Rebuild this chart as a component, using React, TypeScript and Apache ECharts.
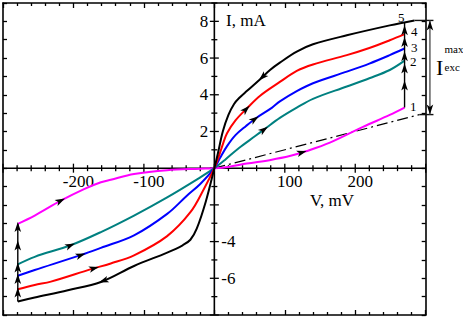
import React, { useEffect, useRef } from "react";
import * as echarts from "echarts";

// ---------- data (V in mV, I in mA) ----------
const curve1V = [-279, -255, -218, -185, -161, -147, -114, -67, -20, 0, 20, 46, 80, 107, 130, 164, 211, 249, 270];
const curve1I = [-3.03, -2.58, -1.77, -1.14, -0.77, -0.63, -0.32, -0.11, -0.03, 0, 0.07, 0.25, 0.45, 0.66, 0.92, 1.39, 2.25, 2.9, 3.3];

const curve2V = [-279, -255, -204, -161, -114, -67, -20, 0, 15, 35, 58, 72, 93, 117, 140, 188, 220, 249, 270];
const curve2I = [-5.24, -4.83, -4.2, -3.48, -2.58, -1.59, -0.5, 0, 0.45, 1.1, 1.75, 2.15, 2.74, 3.3, 3.78, 4.45, 4.9, 5.35, 5.86];

const curve3V = [-279, -255, -190, -161, -114, -67, -39, -20, 0, 8, 18, 30, 45, 60, 82, 93, 117, 140, 188, 220, 249, 270];
const curve3I = [-5.86, -5.55, -4.74, -4.34, -3.66, -2.49, -1.5, -0.86, 0, 0.55, 1.2, 1.8, 2.3, 2.75, 3.3, 3.64, 4.2, 4.63, 5.26, 5.7, 6.16, 6.52];

const curve4V = [-279, -255, -232, -175, -147, -114, -67, -34, -15, 0, 6, 12, 18, 30, 46, 65, 93, 117, 140, 188, 220, 249, 270];
const curve4I = [-6.6, -6.36, -6.18, -5.5, -5.19, -4.75, -3.7, -2.4, -1.15, 0, 0.6, 1.3, 1.9, 2.6, 3.25, 3.95, 4.7, 5.3, 5.65, 6.16, 6.55, 6.97, 7.3];

// curve 5 is the return sweep, from +V to -V
const curve5V = [284, 249, 188, 140, 117, 93, 79, 65, 46, 36, 28, 20, 12, 5, 0, -12, -25, -34, -45, -67, -114, -161, -208, -255, -279];
const curve5I = [8.05, 7.78, 7.24, 6.75, 6.35, 5.75, 5.35, 4.85, 4.2, 3.85, 3.5, 2.9, 2.0, 0.8, 0, -1.8, -3.3, -3.9, -4.2, -4.6, -5.33, -6.2, -6.65, -7.05, -7.26];

const dashV = [0, 291];
const dashI = [0, 2.92];

const vMaxSweep = 270;
const vMinSweep = -279;
const excV = 306;
const excLineEndV = 311;

const curveColors = ["#ff00ff", "#008080", "#0000ff", "#ff0000", "#000000"];
const curveNames = ["1", "2", "3", "4", "5"];

// arrowheads on curves: curve number, V of tip, sweep direction
const arrowCurve = [4, 3, 2, 1, 5, 1, 2, 3, 4, 5];
const arrowV = [50, 63, 76, 131, 63, -212, -198, -183, -164, -164];
const arrowDir = [1, 1, 1, 1, -1, 1, 1, 1, 1, -1];

// axes
const xMin = -300, xMax = 300, xMajor = 100, xMinor = 20;
const yMin = -8, yMax = 9, yMajor = 2, yMinor = 1;
const xTickLabels = [-200, -100, 100, 200];
const yTickLabelsLeft = [2, 4, 6, 8];
const yTickLabelsRight = [-4, -6];

// ---------- helpers ----------
const curvesV = [curve1V, curve2V, curve3V, curve4V, curve5V];
const curvesI = [curve1I, curve2I, curve3I, curve4I, curve5I];

function interp(vs: number[], is: number[], v: number): number {
  for (let k = 0; k < vs.length - 1; k++) {
    const a = vs[k], b = vs[k + 1];
    if ((v >= a && v <= b) || (v <= a && v >= b)) {
      const t = b === a ? 0 : (v - a) / (b - a);
      return is[k] + t * (is[k + 1] - is[k]);
    }
  }
  return is[is.length - 1];
}

const FONT = '"Liberation Serif", "Times New Roman", serif';

export default function App() {
  const ref = useRef<HTMLDivElement>(null);
  useEffect(() => {
    if (!ref.current) return;
    const chart = echarts.init(ref.current, undefined, { renderer: "svg" });

    const curveSeries = curvesV.map((vs, k) => ({
      type: "line",
      name: curveNames[k],
      data: vs.map((v, j) => [v, curvesI[k][j]]),
      showSymbol: false,
      smooth: 0.35,
      lineStyle: { color: curveColors[k], width: 2 },
      z: 3,
    }));

    // vertical jumps at the sweep ends (interpolated on each curve)
    const rightEnds = [0, 1, 2, 3, 4].map((k) => interp(curvesV[k], curvesI[k], vMaxSweep));
    const leftEnds = [4, 3, 2, 1, 0].map((k) => interp(curvesV[k], curvesI[k], vMinSweep));

    const arrows: number[][] = [];
    arrowCurve.forEach((c, n) => {
      const vs = curvesV[c - 1], is = curvesI[c - 1];
      const v = arrowV[n];
      const vb = v - arrowDir[n] * 6;
      arrows.push([v, interp(vs, is, v), vb, interp(vs, is, vb)]);
    });
    for (let k = 0; k < rightEnds.length - 1; k++) {
      arrows.push([vMaxSweep, rightEnds[k + 1] - 0.15, vMaxSweep, rightEnds[k]]);
    }
    arrows.push([vMaxSweep, (rightEnds[0] + rightEnds[1]) / 2 + 0.2, vMaxSweep, rightEnds[0]]);
    for (let k = 0; k < leftEnds.length - 1; k++) {
      arrows.push([vMinSweep, leftEnds[k + 1] + 0.1, vMinSweep, leftEnds[k]]);
    }
    arrows.push([vMinSweep, (leftEnds[3] + leftEnds[4]) / 2 + 0.2, vMinSweep, leftEnds[3]]);
    const excTop = curve5I[0];
    const excBot = dashI[1];
    arrows.push([excV, excTop, excV, excBot]);
    arrows.push([excV, excBot, excV, excTop]);

    // annotation segments: [v1, i1, v2, i2, colourIndex]
    const segColors = ["#111", "#555"];
    const segments = [
      [curve5V[0], excTop, excLineEndV, excTop, 0],
      [dashV[1], excBot, excLineEndV, excBot, 0],
      [excV, excTop, excV, excBot, 1],
    ];

    // central axes ticks
    const xTicks: number[][] = [];
    for (let v = xMin; v <= xMax + 1e-9; v += xMinor) xTicks.push([v, 0]);
    const yTicks: number[][] = [];
    for (let i = yMin; i <= yMax + 1e-9; i += yMinor) yTicks.push([0, i]);

    const tickLine = { color: "#000", width: 1.3 };
    const frameX = (position: string) => ({
      type: "value",
      min: xMin,
      max: xMax,
      interval: xMajor,
      position,
      splitLine: { show: false },
      axisLine: { show: true, onZero: false, lineStyle: { color: "#000", width: 1.6 } },
      axisTick: { show: true, inside: true, length: 5, lineStyle: tickLine },
      minorTick: { show: true, splitNumber: xMajor / xMinor, length: 3, lineStyle: tickLine },
      axisLabel: { show: false },
    });
    const frameY = (position: string) => ({
      type: "value",
      min: yMin,
      max: yMax,
      interval: yMinor,
      position,
      splitLine: { show: false },
      axisLine: { show: true, onZero: false, lineStyle: { color: "#000", width: 1.6 } },
      axisTick: { show: true, inside: true, length: 4, lineStyle: tickLine },
      axisLabel: { show: false },
    });
    const labelFont = `17px ${FONT}`;

    const option: any = {
      animation: false,
      textStyle: { fontFamily: FONT },
      grid: { left: 3, top: 3, width: 422.7, height: 312, containLabel: false, outerBoundsMode: "none" },
      xAxis: [frameX("bottom"), frameX("top")],
      yAxis: [frameY("left"), frameY("right")],
      series: [
        // central axis lines
        {
          type: "line",
          data: [[xMin, 0], [xMax, 0]],
          showSymbol: false,
          lineStyle: { color: "#000", width: 1.6 },
          z: 1,
        },
        {
          type: "line",
          data: [[0, yMin], [0, yMax]],
          showSymbol: false,
          lineStyle: { color: "#000", width: 1.6 },
          z: 1,
        },
        // x ticks + labels on the zero line
        {
          type: "custom",
          clip: false,
          z: 1,
          data: xTicks,
          renderItem: (_p: any, api: any) => {
            const v = api.value(0);
            const p = api.coord([v, 0]);
            const major = Math.abs(v % xMajor) < 1e-6;
            const len = major ? 4.5 : 3;
            const children: any[] = [
              { type: "line", shape: { x1: p[0], y1: p[1] - len, x2: p[0], y2: p[1] + len }, style: { stroke: "#000", lineWidth: 1.3 } },
            ];
            if (xTickLabels.includes(v)) {
              children.push({
                type: "text",
                style: { text: String(v), x: p[0] + 5, y: p[1] + 13.5, font: labelFont, fill: "#000", align: "center", verticalAlign: "middle" },
              });
            }
            return { type: "group", children };
          },
        },
        // y ticks + labels on the zero line
        {
          type: "custom",
          clip: false,
          z: 1,
          data: yTicks,
          renderItem: (_p: any, api: any) => {
            const i = api.value(1);
            const p = api.coord([0, i]);
            const major = Math.abs(i % yMajor) < 1e-6;
            const len = major ? 4.5 : 3;
            const children: any[] = [
              { type: "line", shape: { x1: p[0] - len, y1: p[1], x2: p[0] + len, y2: p[1] }, style: { stroke: "#000", lineWidth: 1.3 } },
            ];
            if (yTickLabelsLeft.includes(i)) {
              children.push({
                type: "text",
                style: { text: String(i), x: p[0] - 6, y: p[1], font: labelFont, fill: "#000", align: "right", verticalAlign: "middle" },
              });
            }
            if (yTickLabelsRight.includes(i)) {
              children.push({
                type: "text",
                style: { text: String(i), x: p[0] + 7, y: p[1], font: labelFont, fill: "#000", align: "left", verticalAlign: "middle" },
              });
            }
            return { type: "group", children };
          },
        },
        {
          type: "line",
          data: dashV.map((v, j) => [v, dashI[j]]),
          showSymbol: false,
          lineStyle: { color: "#000", width: 1.2, type: [11, 4, 2, 4] },
          z: 2,
        },
        ...curveSeries,
        {
          type: "line",
          data: rightEnds.map((i) => [vMaxSweep, i]),
          showSymbol: false,
          lineStyle: { color: "#000", width: 1.4 },
          z: 4,
        },
        {
          type: "line",
          data: leftEnds.map((i) => [vMinSweep, i]),
          showSymbol: false,
          lineStyle: { color: "#000", width: 1.4 },
          z: 4,
        },
        {
          type: "custom",
          clip: false,
          z: 5,
          data: segments,
          renderItem: (_p: any, api: any) => {
            const a = api.coord([api.value(0), api.value(1)]);
            const b = api.coord([api.value(2), api.value(3)]);
            return {
              type: "line",
              shape: { x1: a[0], y1: a[1], x2: b[0], y2: b[1] },
              style: { stroke: segColors[api.value(4)], lineWidth: 1.4 },
            };
          },
        },
        {
          type: "custom",
          clip: false,
          z: 6,
          data: arrows,
          renderItem: (_p: any, api: any) => {
            const tip = api.coord([api.value(0), api.value(1)]);
            const from = api.coord([api.value(2), api.value(3)]);
            let dx = tip[0] - from[0];
            let dy = tip[1] - from[1];
            const len = Math.hypot(dx, dy) || 1;
            dx /= len;
            dy /= len;
            const L = 10, W = 3.3, N = 2.5;
            const bx = tip[0] - dx * L, by = tip[1] - dy * L;
            const px = -dy, py = dx;
            return {
              type: "polygon",
              shape: {
                points: [
                  [tip[0], tip[1]],
                  [bx + px * W, by + py * W],
                  [tip[0] - dx * (L - N), tip[1] - dy * (L - N)],
                  [bx - px * W, by - py * W],
                ],
              },
              style: { fill: "#000" },
            };
          },
        },
      ],
      graphic: [
        { type: "text", x: 226, y: 20, style: { text: "I, mA", font: `17px ${FONT}`, fill: "#000", verticalAlign: "middle" } },
        { type: "text", x: 310, y: 200, style: { text: "V, mV", font: `17px ${FONT}`, fill: "#000", verticalAlign: "middle" } },
        { type: "text", x: 398, y: 17.5, style: { text: "5", font: `13px ${FONT}`, fill: "#000", verticalAlign: "middle" } },
        { type: "text", x: 411, y: 31, style: { text: "4", font: `13px ${FONT}`, fill: "#000", verticalAlign: "middle" } },
        { type: "text", x: 411, y: 47.5, style: { text: "3", font: `13px ${FONT}`, fill: "#000", verticalAlign: "middle" } },
        { type: "text", x: 410, y: 61, style: { text: "2", font: `13px ${FONT}`, fill: "#000", verticalAlign: "middle" } },
        { type: "text", x: 410, y: 106.5, style: { text: "1", font: `13px ${FONT}`, fill: "#000", verticalAlign: "middle" } },
        { type: "text", x: 436, y: 67.5, style: { text: "I", font: `22px ${FONT}`, fill: "#000", verticalAlign: "middle" } },
        { type: "text", x: 444.5, y: 48.8, style: { text: "max", font: `11px ${FONT}`, fill: "#000", verticalAlign: "middle" } },
        { type: "text", x: 444.5, y: 66.5, style: { text: "exc", font: `11px ${FONT}`, fill: "#000", verticalAlign: "middle" } },
      ],
    };
    chart.setOption(option);
    return () => chart.dispose();
  }, []);
  return (
    <div
      ref={ref}
      style={{ position: "fixed", left: 0, top: 0, width: 463, height: 319, background: "#fff" }}
    />
  );
}
